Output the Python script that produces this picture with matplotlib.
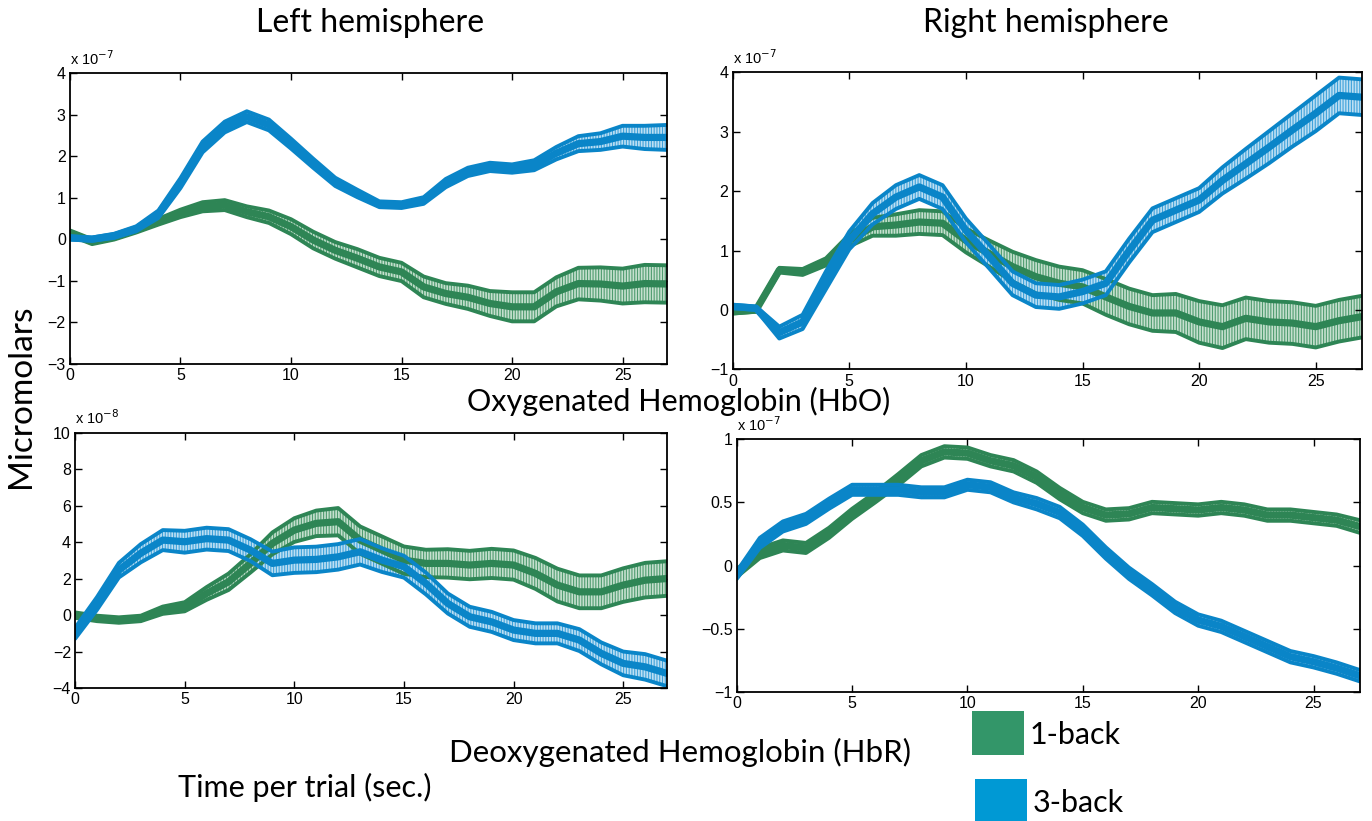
"""
fNIRS grand averages, 1-back vs 3-back, left and right hemisphere.
Top row: oxygenated hemoglobin (HbO), bottom row: deoxygenated (HbR).
"""

import matplotlib
matplotlib.use("Agg")
import matplotlib.pyplot as plt
from matplotlib.patches import Rectangle

# ----------------------------------------------------------------
# Data, one value per second, 0 .. 27 s
# ----------------------------------------------------------------
time_s = [0, 1, 2, 3, 4, 5, 6, 7, 8, 9, 10, 11, 12, 13, 14, 15, 16, 17, 18,
          19, 20, 21, 22, 23, 24, 25, 26, 27]

# HbO, left hemisphere  (x 1e-7)
hbo_left_1back = [0.15, -0.06, 0.05, 0.22, 0.42, 0.62, 0.78, 0.82, 0.66, 0.54,
                  0.30, -0.02, -0.27, -0.46, -0.67, -0.79, -1.15, -1.31, -1.40,
                  -1.55, -1.63, -1.63, -1.27, -1.07, -1.08, -1.13, -1.07, -1.08]
hbo_left_1back_err = [0.06, 0.06, 0.06, 0.06, 0.07, 0.09, 0.11, 0.12, 0.13, 0.15,
                      0.18, 0.20, 0.20, 0.22, 0.22, 0.22, 0.25, 0.25, 0.28, 0.30,
                      0.35, 0.35, 0.35, 0.38, 0.40, 0.42, 0.45, 0.45]
hbo_left_3back = [0.03, 0.00, 0.08, 0.25, 0.60, 1.35, 2.22, 2.70, 2.95, 2.75,
                  2.30, 1.83, 1.38, 1.10, 0.84, 0.82, 0.93, 1.35, 1.62, 1.74,
                  1.70, 1.78, 2.07, 2.30, 2.35, 2.48, 2.45, 2.45]
hbo_left_3back_err = [0.04, 0.04, 0.05, 0.06, 0.09, 0.12, 0.13, 0.13, 0.13, 0.13,
                      0.12, 0.11, 0.10, 0.09, 0.07, 0.07, 0.08, 0.10, 0.10, 0.10,
                      0.10, 0.12, 0.15, 0.18, 0.20, 0.25, 0.28, 0.30]

# HbO, right hemisphere  (x 1e-7)
hbo_right_1back = [-0.03, 0.00, 0.67, 0.64, 0.81, 1.17, 1.40, 1.43, 1.48, 1.46,
                   1.17, 0.95, 0.73, 0.56, 0.45, 0.39, 0.22, 0.06, -0.05, -0.05,
                   -0.20, -0.28, -0.14, -0.20, -0.22, -0.28, -0.18, -0.11]
hbo_right_1back_err = [0.03, 0.03, 0.04, 0.05, 0.06, 0.10, 0.15, 0.18, 0.20, 0.20,
                       0.20, 0.22, 0.25, 0.28, 0.28, 0.28, 0.30, 0.30, 0.30, 0.32,
                       0.35, 0.36, 0.35, 0.35, 0.35, 0.35, 0.35, 0.35]
hbo_right_3back = [0.06, 0.03, -0.38, -0.20, 0.50, 1.17, 1.62, 1.90, 2.07, 1.90,
                   1.34, 0.90, 0.45, 0.25, 0.22, 0.31, 0.45, 1.00, 1.51, 1.68,
                   1.85, 2.18, 2.46, 2.74, 3.03, 3.31, 3.61, 3.58]
hbo_right_3back_err = [0.03, 0.03, 0.10, 0.12, 0.15, 0.15, 0.18, 0.20, 0.20, 0.20,
                       0.20, 0.20, 0.20, 0.20, 0.20, 0.20, 0.20, 0.20, 0.20, 0.20,
                       0.20, 0.22, 0.25, 0.27, 0.28, 0.30, 0.30, 0.30]

# HbR, left hemisphere  (x 1e-8)
hbr_left_1back = [0.00, -0.18, -0.27, -0.18, 0.27, 0.46, 1.19, 1.83, 2.84, 3.94,
                  4.67, 5.04, 5.13, 4.12, 3.57, 3.02, 2.84, 2.84, 2.75, 2.84,
                  2.75, 2.29, 1.65, 1.28, 1.28, 1.65, 1.92, 2.01]
hbr_left_1back_err = [0.15, 0.15, 0.15, 0.15, 0.20, 0.25, 0.35, 0.45, 0.50, 0.60,
                      0.65, 0.70, 0.75, 0.75, 0.75, 0.75, 0.75, 0.78, 0.78, 0.80,
                      0.80, 0.85, 0.90, 0.90, 0.90, 0.92, 0.95, 0.95]
hbr_left_3back = [-1.00, 0.64, 2.47, 3.40, 4.12, 4.03, 4.20, 4.12, 3.57, 2.84,
                  3.02, 3.06, 3.20, 3.48, 3.02, 2.66, 1.74, 0.64, -0.09, -0.37,
                  -0.82, -1.00, -1.00, -1.37, -2.10, -2.65, -2.84, -3.20]
hbr_left_3back_err = [0.30, 0.35, 0.40, 0.50, 0.55, 0.60, 0.60, 0.60, 0.60, 0.65,
                      0.70, 0.70, 0.70, 0.70, 0.65, 0.60, 0.60, 0.55, 0.55, 0.55,
                      0.55, 0.55, 0.55, 0.60, 0.60, 0.65, 0.70, 0.70]

# HbR, right hemisphere  (x 1e-7)
hbr_right_1back = [-0.06, 0.10, 0.16, 0.14, 0.26, 0.41, 0.54, 0.68, 0.83, 0.90,
                   0.89, 0.83, 0.79, 0.70, 0.57, 0.46, 0.40, 0.41, 0.46, 0.45,
                   0.44, 0.46, 0.44, 0.40, 0.40, 0.38, 0.36, 0.31]
hbr_right_1back_err = [0.03, 0.04, 0.04, 0.04, 0.04, 0.04, 0.04, 0.045, 0.045, 0.045,
                       0.045, 0.045, 0.045, 0.045, 0.045, 0.045, 0.045, 0.045, 0.045,
                       0.045, 0.045, 0.045, 0.045, 0.045, 0.045, 0.045, 0.045, 0.05]
hbr_right_3back = [-0.075, 0.18, 0.31, 0.37, 0.49, 0.60, 0.60, 0.60, 0.58, 0.58,
                   0.64, 0.62, 0.54, 0.49, 0.42, 0.28, 0.10, -0.06, -0.19, -0.33,
                   -0.43, -0.48, -0.56, -0.64, -0.72, -0.76, -0.81, -0.87]
hbr_right_3back_err = [0.03, 0.04, 0.04, 0.04, 0.04, 0.04, 0.04, 0.04, 0.04, 0.04,
                       0.04, 0.04, 0.04, 0.045, 0.045, 0.045, 0.045, 0.045, 0.045,
                       0.045, 0.045, 0.045, 0.045, 0.045, 0.045, 0.045, 0.045, 0.045]

x_ticks = [0, 5, 10, 15, 20, 25]
legend_labels = ["1-back", "3-back"]

# ----------------------------------------------------------------
# Style
# ----------------------------------------------------------------
GREEN = "#2e8555"
GREEN_FILL = "#c6e0cf"
GREEN_HATCH = "#4f9c6f"
BLUE = "#0a85c8"
BLUE_FILL = "#bddff3"
BLUE_HATCH = "#3fa2da"
LEGEND_GREEN = "#339669"
LEGEND_BLUE = "#0099d4"

TEXT_FONT = ["Lato", "DejaVu Sans"]
TICK_FONT = ["Liberation Sans", "DejaVu Sans"]

plt.rcParams["hatch.linewidth"] = 0.8


def draw_series(ax, mean, err, line_color, fill_color, hatch_color):
    """Mean line plus a hatched error band with thick edges."""
    upper = [m + e for m, e in zip(mean, err)]
    lower = [m - e for m, e in zip(mean, err)]
    ax.fill_between(time_s, lower, upper, facecolor=fill_color,
                    edgecolor=hatch_color, hatch="||||||", linewidth=0)
    for edge in (upper, lower):
        ax.plot(time_s, edge, color=line_color, lw=2.8,
                solid_capstyle="round", solid_joinstyle="round")
    ax.plot(time_s, mean, color=line_color, lw=5.2,
            solid_capstyle="round", solid_joinstyle="round")


def make_panel(rect, s1, e1, s3, e3, ylim, yticks, ylabels, exponent):
    ax = fig.add_axes(rect)
    draw_series(ax, s1, e1, GREEN, GREEN_FILL, GREEN_HATCH)
    draw_series(ax, s3, e3, BLUE, BLUE_FILL, BLUE_HATCH)
    ax.set_xlim(0, 27)
    ax.set_ylim(*ylim)
    ax.set_xticks(x_ticks)
    ax.set_yticks(yticks)
    ax.set_yticklabels(ylabels)
    ax.tick_params(direction="in", top=True, right=True, length=5,
                   width=1, labelsize=11.5, pad=3)
    for lab in ax.get_xticklabels() + ax.get_yticklabels():
        lab.set_family(TICK_FONT)
    for sp in ax.spines.values():
        sp.set_linewidth(1.3)
    # MATLAB-style exponent just above the top-left corner
    ax.annotate("x 10$^{%d}$" % exponent, xy=(0, 1), xycoords="axes fraction",
                xytext=(0, 4), textcoords="offset points",
                fontsize=10.5, family=TICK_FONT, va="bottom", ha="left")
    return ax


# ----------------------------------------------------------------
# Figure
# ----------------------------------------------------------------
fig = plt.figure(figsize=(13.72, 8.21), dpi=100)

make_panel([0.051, 0.557, 0.435, 0.354], hbo_left_1back, hbo_left_1back_err,
           hbo_left_3back, hbo_left_3back_err, (-3, 4),
           [-3, -2, -1, 0, 1, 2, 3, 4],
           ["\u22123", "\u22122", "\u22121", "0", "1", "2", "3", "4"], -7)

make_panel([0.534, 0.550, 0.459, 0.362], hbo_right_1back, hbo_right_1back_err,
           hbo_right_3back, hbo_right_3back_err, (-1, 4),
           [-1, 0, 1, 2, 3, 4],
           ["\u22121", "0", "1", "2", "3", "4"], -7)

make_panel([0.0547, 0.162, 0.4315, 0.3106], hbr_left_1back, hbr_left_1back_err,
           hbr_left_3back, hbr_left_3back_err, (-4, 10),
           [-4, -2, 0, 2, 4, 6, 8, 10],
           ["\u22124", "\u22122", "0", "2", "4", "6", "8", "10"], -8)

make_panel([0.537, 0.157, 0.454, 0.308], hbr_right_1back, hbr_right_1back_err,
           hbr_right_3back, hbr_right_3back_err, (-1, 1),
           [-1, -0.5, 0, 0.5, 1],
           ["\u22121", "\u22120.5", "0", "0.5", "1"], -7)

# headings and shared labels
fig.text(370 / 1372, 1 - 23 / 821, "Left hemisphere", fontsize=23,
         family=TEXT_FONT, ha="center", va="center")
fig.text(1046 / 1372, 1 - 23 / 821, "Right hemisphere", fontsize=23,
         family=TEXT_FONT, ha="center", va="center")
fig.text(21 / 1372, 1 - 396 / 821, "Micromolars", fontsize=24, rotation=90,
         family=TEXT_FONT, ha="center", va="center")
fig.text(679 / 1372, 1 - 401 / 821, "Oxygenated Hemoglobin (HbO)", fontsize=22,
         family=TEXT_FONT, ha="center", va="center")
fig.text(680 / 1372, 1 - 752 / 821, "Deoxygenated Hemoglobin (HbR)", fontsize=22.5,
         family=TEXT_FONT, ha="center", va="center")
fig.text(178 / 1372, 1 - 787 / 821, "Time per trial (sec.)", fontsize=22,
         family=TEXT_FONT, ha="left", va="center")

# legend drawn as two coloured squares with labels
legend_colors = [LEGEND_GREEN, LEGEND_BLUE]
legend_boxes = [(972, 711), (975, 779)]
for (px, py), col, lab in zip(legend_boxes, legend_colors, legend_labels):
    fig.patches.append(Rectangle((px / 1372, 1 - (py + 44) / 821), 52 / 1372,
                                 44 / 821, transform=fig.transFigure,
                                 facecolor=col, edgecolor="none"))
    fig.text((px + 58) / 1372, 1 - (py + 24) / 821, lab, fontsize=22,
             family=TEXT_FONT, ha="left", va="center")

fig.savefig("out.png", dpi=100)
